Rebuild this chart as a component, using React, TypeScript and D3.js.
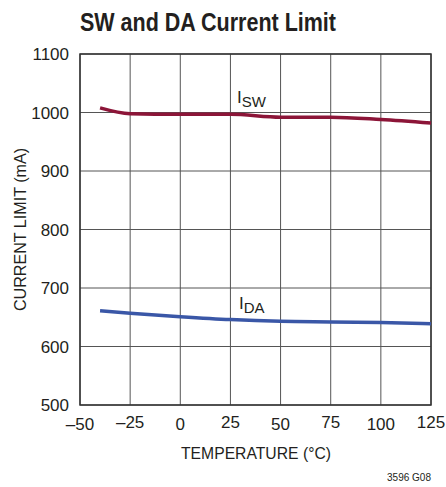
import { useEffect, useRef } from 'react'
import * as d3 from 'd3'

const temps = [-40, -25, 0, 25, 50, 75, 100, 125]
const iSw = [1008, 998, 997, 997, 992, 992, 988, 982]
const iDa = [661, 657, 651, 646, 643, 642, 641, 639]
const xTicks = [-50, -25, 0, 25, 50, 75, 100, 125]
const yTicks = [500, 600, 700, 800, 900, 1000, 1100]

const W = 446
const H = 487
const font = '"Liberation Sans", Arial, sans-serif'

export default function App() {
  const svgRef = useRef<SVGSVGElement | null>(null)

  useEffect(() => {
    if (!svgRef.current) return
    const svg = d3.select(svgRef.current)
    svg.selectAll('*').remove()

    const margin = { top: 54, right: 15, bottom: 82, left: 80 }
    const x = d3.scaleLinear().domain([-50, 125]).range([margin.left, W - margin.right])
    const y = d3.scaleLinear().domain([500, 1100]).range([H - margin.bottom, margin.top])

    svg.append('text')
      .attr('x', 80).attr('y', 31)
      .attr('font-family', font)
      .attr('font-weight', 'bold')
      .attr('font-size', 25)
      .attr('textLength', 256)
      .attr('lengthAdjust', 'spacingAndGlyphs')
      .attr('fill', '#231f20')
      .text('SW and DA Current Limit')

    const grid = svg.append('g').attr('stroke', '#555').attr('stroke-width', 1)
    grid.selectAll('.vx')
      .data(xTicks)
      .join('line')
      .attr('x1', d => x(d)).attr('x2', d => x(d))
      .attr('y1', y(500)).attr('y2', y(1100))
    grid.selectAll('.hy')
      .data(yTicks)
      .join('line')
      .attr('x1', x(-50)).attr('x2', x(125))
      .attr('y1', d => y(d)).attr('y2', d => y(d))

    svg.append('rect')
      .attr('x', x(-50)).attr('y', y(1100))
      .attr('width', x(125) - x(-50)).attr('height', y(500) - y(1100))
      .attr('fill', 'none').attr('stroke', '#333').attr('stroke-width', 1.5)

    svg.append('g')
      .selectAll('text')
      .data(xTicks)
      .join('text')
      .attr('x', d => x(d))
      .attr('y', (_, i) => (i % 2 === 0 ? 430 : 428))
      .attr('text-anchor', 'middle')
      .attr('font-family', font)
      .attr('font-size', 17)
      .attr('fill', '#231f20')
      .text(d => (d < 0 ? `\u2013${-d}` : `${d}`))

    svg.append('g')
      .selectAll('text')
      .data(yTicks)
      .join('text')
      .attr('x', 69)
      .attr('y', d => y(d) + 6)
      .attr('text-anchor', 'end')
      .attr('font-family', font)
      .attr('font-size', 17)
      .attr('fill', '#231f20')
      .text(d => d)

    svg.append('text')
      .attr('x', 256).attr('y', 459)
      .attr('text-anchor', 'middle')
      .attr('font-family', font)
      .attr('font-size', 17)
      .attr('textLength', 150)
      .attr('lengthAdjust', 'spacingAndGlyphs')
      .attr('fill', '#231f20')
      .text('TEMPERATURE (°C)')

    svg.append('text')
      .attr('transform', `translate(26,${(y(500) + y(1100)) / 2}) rotate(-90)`)
      .attr('text-anchor', 'middle')
      .attr('font-family', font)
      .attr('font-size', 17)
      .attr('textLength', 163)
      .attr('lengthAdjust', 'spacingAndGlyphs')
      .attr('fill', '#231f20')
      .text('CURRENT LIMIT (mA)')

    svg.append('text')
      .attr('x', 431).attr('y', 481)
      .attr('text-anchor', 'end')
      .attr('font-family', font)
      .attr('font-size', 11)
      .attr('textLength', 44)
      .attr('lengthAdjust', 'spacingAndGlyphs')
      .attr('fill', '#231f20')
      .text('3596 G08')

    const line = d3.line<number>()
      .x((_, i) => x(temps[i]))
      .y(d => y(d))
      .curve(d3.curveMonotoneX)

    svg.append('path')
      .attr('d', line(iSw) ?? '')
      .attr('fill', 'none')
      .attr('stroke', '#8c1538')
      .attr('stroke-width', 3.5)

    svg.append('path')
      .attr('d', line(iDa) ?? '')
      .attr('fill', 'none')
      .attr('stroke', '#3a57a7')
      .attr('stroke-width', 3.5)

    const label = (lx: number, ly: number, sub: string) => {
      const t = svg.append('text')
        .attr('x', lx).attr('y', ly)
        .attr('font-family', font)
        .attr('font-size', 17)
        .attr('fill', '#231f20')
      t.append('tspan').text('I')
      t.append('tspan').attr('dy', 4).attr('font-size', 15).text(sub)
    }
    label(237, 103, 'SW')
    label(239, 309, 'DA')
  }, [])

  return (
    <svg
      ref={svgRef}
      width={W}
      height={H}
      style={{ position: 'absolute', left: 0, top: 0, background: '#fff' }}
    />
  )
}
